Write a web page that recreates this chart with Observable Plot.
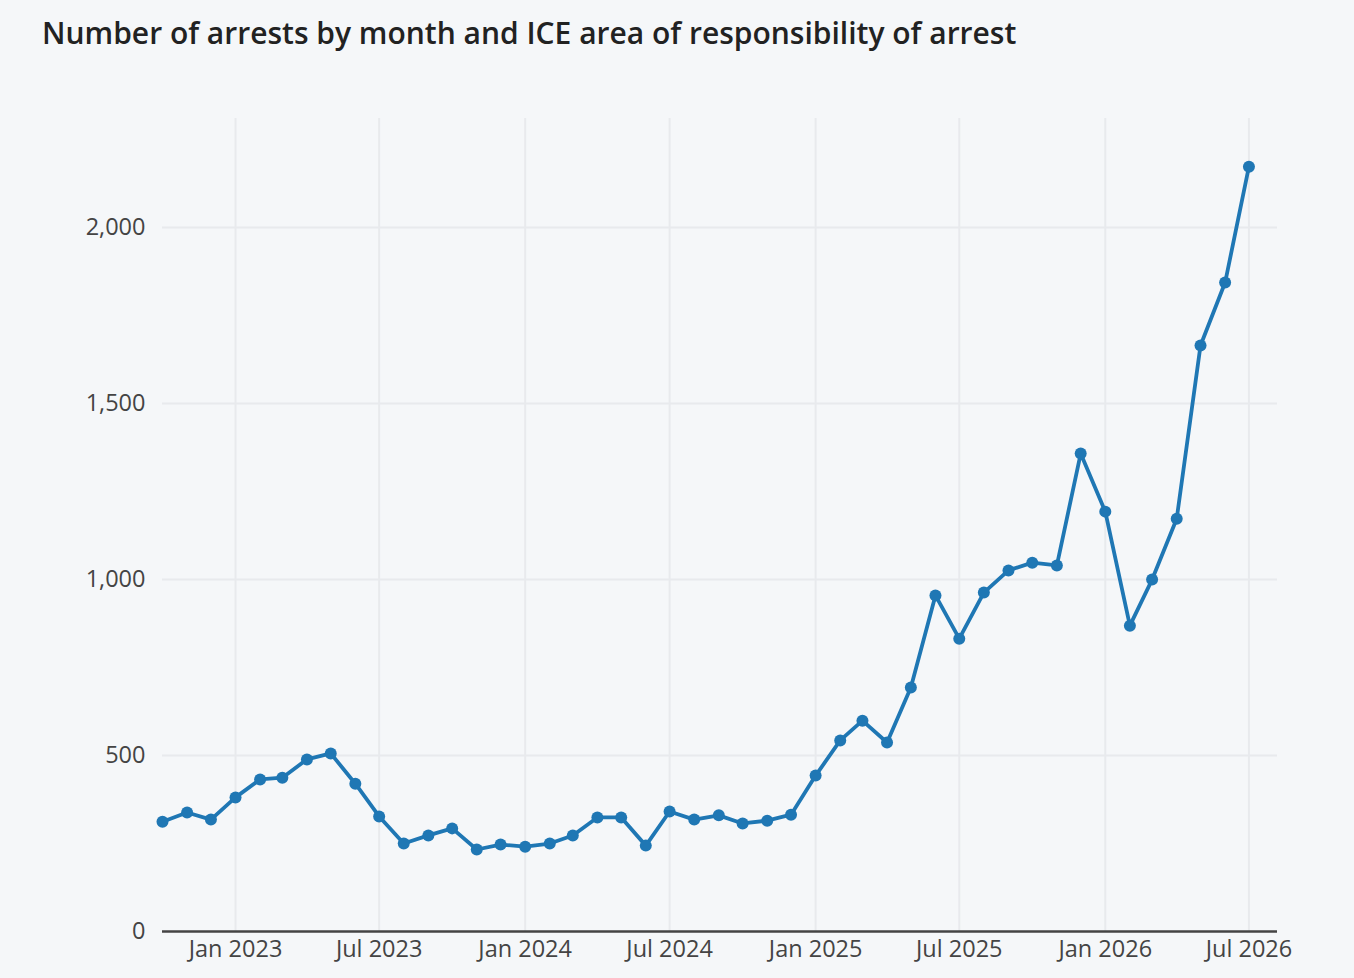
<!DOCTYPE html>
<html>
<head>
<meta charset="utf-8">
<script src="https://cdn.jsdelivr.net/npm/d3@7"></script>
<script src="https://cdn.jsdelivr.net/npm/@observablehq/plot@0.6"></script>
<style>
  html, body { margin: 0; padding: 0; background: #f5f7f9; }
  body { width: 1354px; height: 978px; position: relative; overflow: hidden; font-family: "Open Sans", "Noto Sans", sans-serif; }
  #title { position: absolute; left: 42px; top: 12px; font-size: 30px; font-weight: 600; color: #222; letter-spacing: 0; }
  #chart { position: absolute; left: 0; top: 80px; }
</style>
</head>
<body>
<div id="title">Number of arrests by month and ICE area of responsibility of arrest</div>
<div id="chart"></div>
<script>
const months = [
  "2022-10","2022-11","2022-12",
  "2023-01","2023-02","2023-03","2023-04","2023-05","2023-06","2023-07","2023-08","2023-09","2023-10","2023-11","2023-12",
  "2024-01","2024-02","2024-03","2024-04","2024-05","2024-06","2024-07","2024-08","2024-09","2024-10","2024-11","2024-12",
  "2025-01","2025-02","2025-03","2025-04","2025-05","2025-06","2025-07","2025-08","2025-09","2025-10","2025-11","2025-12",
  "2026-01","2026-02","2026-03","2026-04","2026-05","2026-06","2026-07"
];
const arrests = [
  312, 338, 318,
  381, 432, 437, 489, 506, 420, 327, 250, 273, 293, 233, 247,
  241, 250, 273, 324, 324, 244, 341, 318, 330, 307, 315, 332,
  443, 543, 599, 537, 693, 955, 832, 963, 1026, 1048, 1040, 1358,
  1193, 869, 1000, 1173, 1665, 1844, 2173
];
const xTicks = ["2023-01","2023-07","2024-01","2024-07","2025-01","2025-07","2026-01","2026-07"];
const yTicks = [0, 500, 1000, 1500, 2000];

const parse = d3.utcParse("%Y-%m");
const data = months.map((m, i) => ({date: parse(m), value: arrests[i]}));
const xTickDates = xTicks.map(parse);

const lineColor = "#1f77b4";
const gridColor = "#e8eaed";

const plot = Plot.plot({
  width: 1354,
  height: 898,
  marginTop: 38,
  marginBottom: 47,
  marginLeft: 162,
  marginRight: 77,
  style: { background: "transparent", fontFamily: "Open Sans, Noto Sans, sans-serif", fontSize: "23.5px", color: "#444" },
  x: { type: "utc", domain: [parse("2022-10"), new Date(Date.UTC(2026, 7, 6))] },
  y: { domain: [0, 2310] },
  marks: [
    Plot.gridX(xTickDates, { stroke: gridColor, strokeOpacity: 1, strokeWidth: 2 }),
    Plot.gridY(yTicks.filter(d => d > 0), { stroke: gridColor, strokeOpacity: 1, strokeWidth: 2 }),
    Plot.axisX(xTickDates, { tickSize: 0, tickPadding: 9, tickFormat: d3.utcFormat("%b %Y"), label: null, fill: "#444" }),
    Plot.axisY(yTicks, { tickSize: 0, tickPadding: 17, tickFormat: d3.format(","), label: null, fill: "#444" }),
    Plot.ruleY([0], { stroke: "#444", strokeWidth: 2.5 }),
    Plot.line(data, { x: "date", y: "value", stroke: lineColor, strokeWidth: 3.8 }),
    Plot.dot(data, { x: "date", y: "value", fill: lineColor, r: 6, stroke: "none" })
  ]
});
document.getElementById("chart").appendChild(plot);
</script>
</body>
</html>
